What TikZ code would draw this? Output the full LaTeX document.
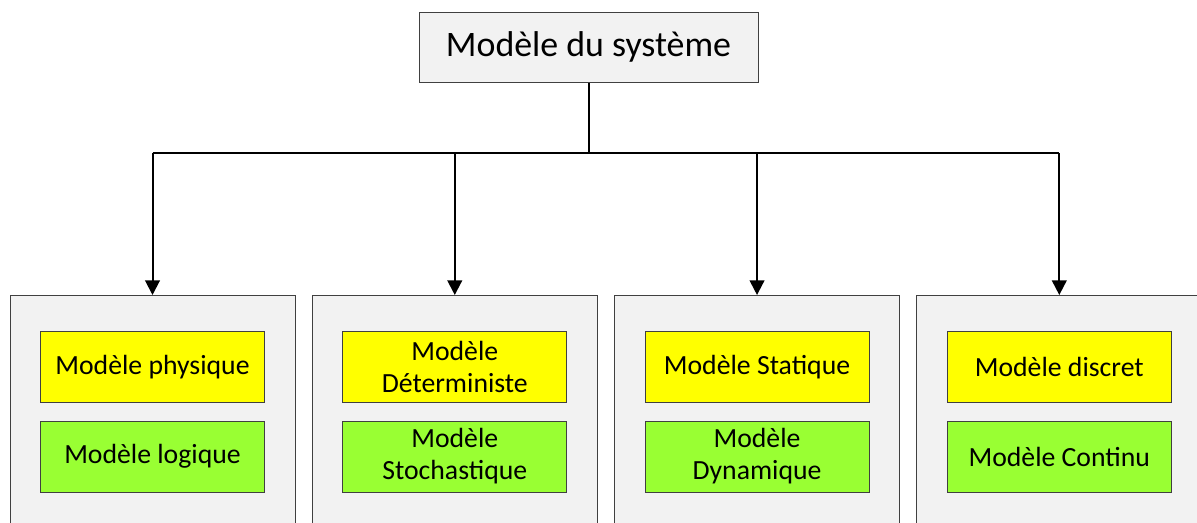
\documentclass[tikz,border=0pt]{standalone}
\usepackage{fontspec}
\setmainfont{Carlito}
\usetikzlibrary{arrows.meta, positioning}
\definecolor{cpanel}{HTML}{F2F2F2}
\definecolor{cyellow}{HTML}{FFFF00}
\definecolor{cgreen}{HTML}{99FF33}
\definecolor{cedge}{HTML}{404040}
\tikzset{
  every picture/.style={line width=1.5pt},
  topbox/.style={draw=cedge, fill=cpanel, line width=0.75pt, minimum width=254.25pt, minimum height=52.5pt, font=\fontsize{26.9}{32}\selectfont},
  panel/.style={draw=cedge, fill=cpanel, line width=0.75pt, anchor=north, minimum width=213.75pt, minimum height=180pt},
  item/.style={draw=cedge, fill=#1, line width=0.75pt, minimum width=168pt, minimum height=53.25pt, inner sep=2pt, align=center, font=\fontsize{20.8}{24}\selectfont},
  item/.default=cyellow,
  arrow/.style={-{Triangle[length=11pt, width=11pt]}, draw=black, line width=1.5pt},
}
\begin{document}
\begin{tikzpicture}[x=0.75pt, y=-0.75pt, node distance=13.125pt]
  \useasboundingbox (0,0) rectangle (1197,522);
  \node[topbox] (sys) at (588.5,47) {Modèle du système};
  \node[panel] (p1) at (152.5,295) {};
  \node[panel, right=12.2pt of p1] (p2) {};
  \node[panel, right=12.2pt of p2] (p3) {};
  \node[panel, right=12.2pt of p3] (p4) {};
  \node[item, below=27pt of p1.north] (phys) {Modèle physique};
  \node[item=cgreen, below=of phys] (logi) {Modèle logique};
  \node[item, below=27pt of p2.north] (determ) {Modèle\\Déterministe};
  \node[item=cgreen, below=of determ] (stoch) {Modèle\\Stochastique};
  \node[item, below=27pt of p3.north] (stat) {Modèle Statique};
  \node[item=cgreen, below=of stat] (dyn) {Modèle\\Dynamique};
  \node[item, below=27pt of p4.north] (discr) {Modèle discret};
  \node[item=cgreen, below=of discr] (cont) {Modèle Continu};
  \coordinate (bus) at (588.5,153);
  \draw (sys.south) -- (bus);
  \draw (p1.north |- bus) -- (p4.north |- bus);
  \foreach \p in {p1,p2,p3,p4}
    \draw[arrow] (\p.north |- bus) -- (\p.north);
\end{tikzpicture}
\end{document}
